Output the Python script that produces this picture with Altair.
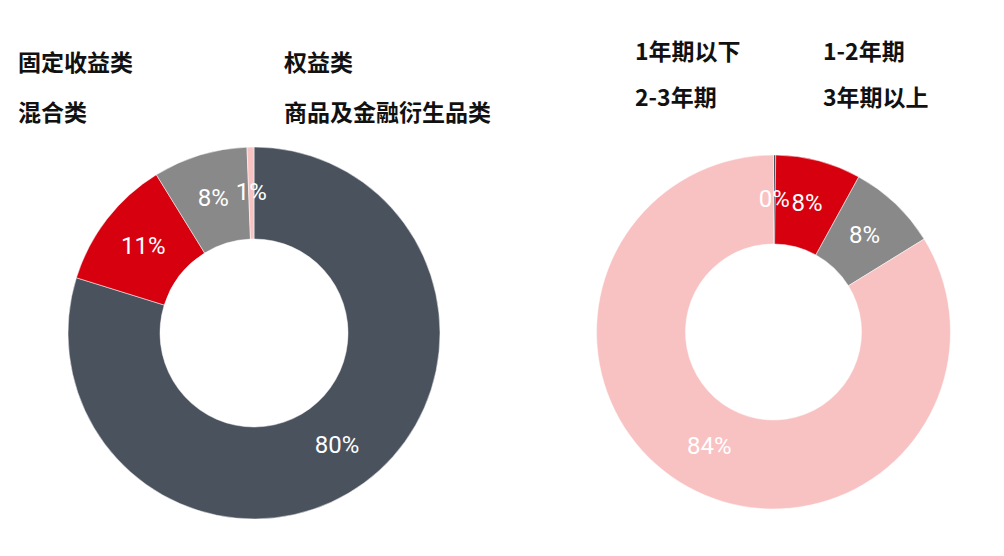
import altair as alt
import pandas as pd

# Left donut: asset classes
left_cats = ["固定收益类", "权益类", "混合类", "商品及金融衍生品类"]
left_vals = [79.8, 11.4, 8.2, 0.6]
left_labels = ["80%", "11%", "8%", "1%"]

# Right donut: maturity
right_cats = ["1年期以下", "1-2年期", "2-3年期", "3年期以上"]
right_vals = [0.2, 7.8, 8.2, 83.8]
right_labels = ["0%", "8%", "8%", "84%"]

colors = ["#4a525e", "#d7000f", "#898989", "#f9c2c2"]

LEG_FONT = "Noto Sans CJK SC"
LBL_FONT = "Roboto"


def donut(cats, vals, labels, w, h, cx, cy, r_out, r_in, r_lbl, lx, ly, colpad, rowpad):
    df = pd.DataFrame({"cat": cats, "val": vals, "lbl": labels, "idx": list(range(len(cats)))})
    base = alt.Chart(df).encode(
        theta=alt.Theta("val:Q", stack=True),
        order=alt.Order("idx:O"),
    )
    arcs = base.mark_arc(outerRadius=r_out, innerRadius=r_in, stroke="white", strokeWidth=0.5).encode(
        x=alt.value(cx),
        y=alt.value(cy),
        color=alt.Color(
            "cat:N",
            scale=alt.Scale(domain=cats, range=colors),
            sort=cats,
            legend=alt.Legend(
                title=None,
                orient="none",
                legendX=lx,
                legendY=ly,
                padding=0,
                offset=0,
                columns=2,
                direction="horizontal",
                symbolSize=0,
                symbolStrokeWidth=0,
                symbolOpacity=0,
                labelOffset={"expr": "-13"},
                columnPadding=colpad,
                rowPadding=rowpad,
                labelFont=LEG_FONT,
                labelFontSize=23,
                labelFontWeight="bold",
                labelColor="#111111",
                labelLimit=400,
            ),
        ),
    )
    text = base.mark_text(radius=r_lbl, font=LBL_FONT, fontSize=24, color="white").encode(
        x=alt.value(cx),
        y=alt.value(cy),
        text="lbl:N",
    )
    return alt.layer(arcs, text).properties(width=w, height=h)


left = donut(left_cats, left_vals, left_labels, 510, 530, 246, 325, 186, 94, 140, 0, 44, 141, 26)
right = donut(right_cats, right_vals, right_labels, 470, 530, 255.5, 324, 177, 88, 132, 107, 33, 72, 22)

chart = (
    alt.hconcat(left, right, spacing=0)
    .resolve_scale(color="independent")
    .properties(padding=0, background="white")
    .configure_view(stroke="transparent", strokeWidth=0)
)

chart.save("out.html", embed_options={"renderer": "svg", "actions": False})
